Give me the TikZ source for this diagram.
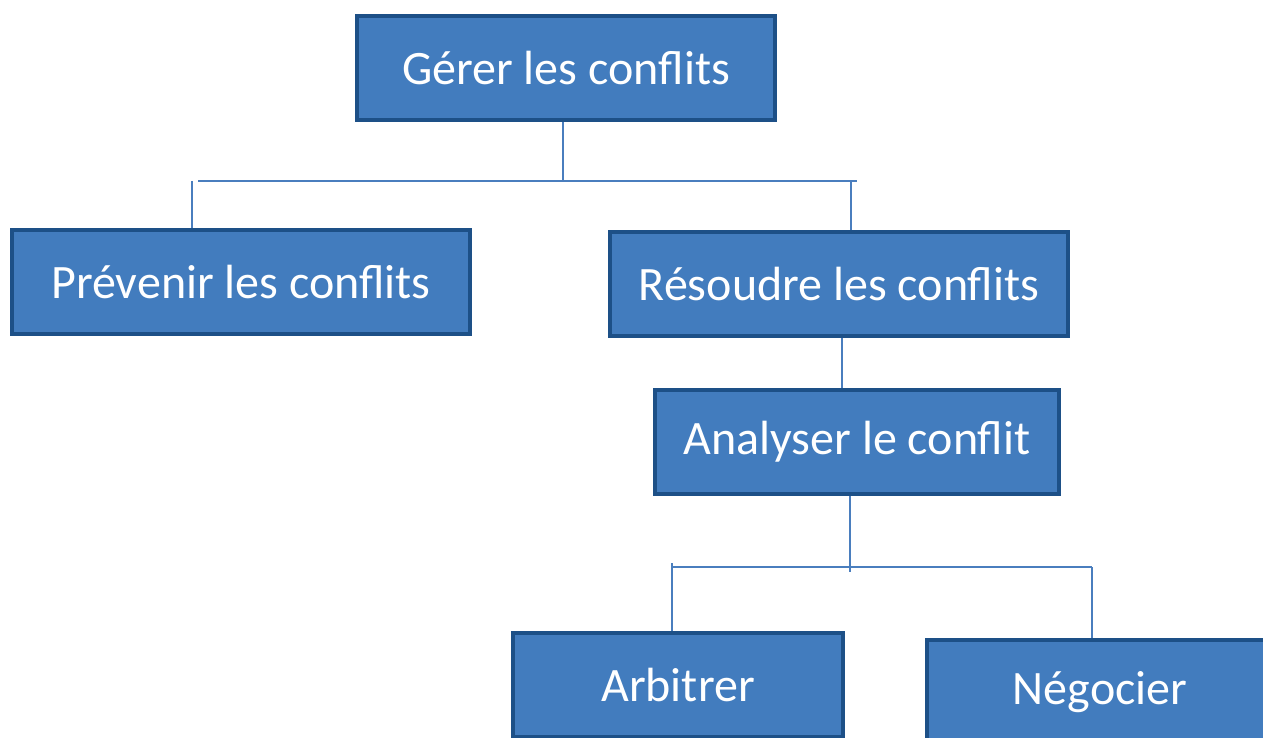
\documentclass[tikz,border=0pt]{standalone}
\usepackage{fontspec}
\setmainfont{Carlito}
\usepackage{tikz}
\definecolor{boxfill}{RGB}{66,124,190}
\definecolor{boxline}{RGB}{29,80,135}
\definecolor{linkcol}{RGB}{74,126,190}

\begin{document}
\begin{tikzpicture}[x=0.75pt, y=-0.75pt,
    box/.style={draw=boxline, line width=3.2pt, fill=boxfill, text=white,
      font=\fontsize{36}{40}\selectfont, minimum height=78pt, inner sep=0pt},
    link/.style={draw=linkcol, line width=1.5pt}]
  \useasboundingbox (0,0) rectangle (1263,738);
  \node[box, minimum width=314pt] (gerer) at (566,68) {Gérer les conflits};
  \node[box, minimum width=343.5pt] (prevenir) at (241,282) {Prévenir les conflits};
  \node[box, minimum width=344pt] (resoudre) at (839,284) {Résoudre les conflits};
  \node[box, minimum width=303pt] (analyser) at (857,442) {Analyser le conflit};
  \node[box, minimum width=247.5pt] (arbitrer) at (678,685) {Arbitrer};
  \node[box, minimum width=260pt] (negocier) at (1100,692) {Négocier};
  % first level
  \coordinate (j1) at (563,181);
  \coordinate (j1l) at (198,181);
  \coordinate (j1r) at (857,181);
  \coordinate (d1l) at (192,181);
  \coordinate (d1r) at (851,181);
  \draw[link] (gerer.south -| j1) -- (j1);
  \draw[link] (j1l) -- (j1r);
  \draw[link] (d1l) -- (d1l |- prevenir.north);
  \draw[link] (d1r) -- (d1r |- resoudre.north);
  % second level
  \coordinate (d2) at (842,338);
  \draw[link] (resoudre.south -| d2) -- (analyser.north -| d2);
  \coordinate (j2) at (850,572);
  \coordinate (j2l) at (672,567);
  \coordinate (j2r) at (1092,567);
  \coordinate (d2l) at (672,563);
  \draw[link] (analyser.south -| j2) -- (j2);
  \draw[link] (j2l) -- (j2r);
  \draw[link] (d2l) -- (arbitrer.north -| d2l);
  \draw[link] (j2r) -- (negocier.north -| j2r);
\end{tikzpicture}
\end{document}
